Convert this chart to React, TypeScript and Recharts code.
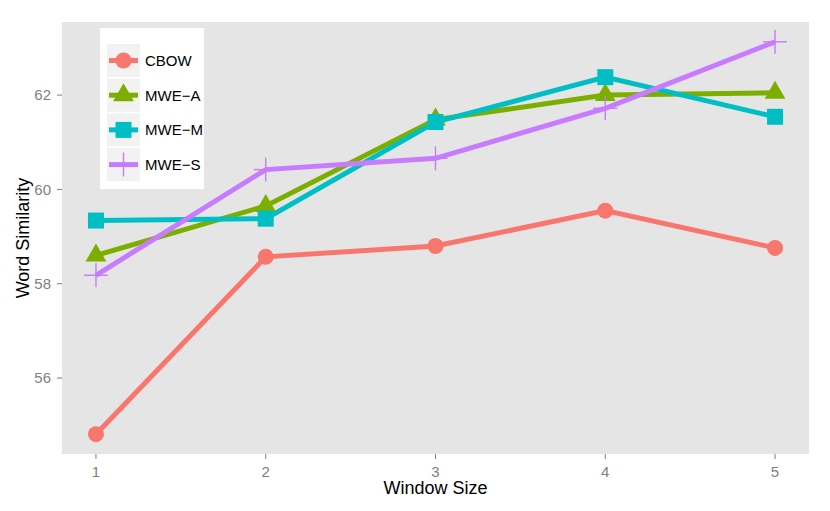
import React from 'react';
import { LineChart, Line, XAxis, YAxis, CartesianGrid } from 'recharts';

const windowSizes = [1, 2, 3, 4, 5];
const cbow = [54.81, 58.57, 58.8, 59.55, 58.76];
const mweA = [58.6, 59.65, 61.48, 62.0, 62.05];
const mweM = [59.34, 59.38, 61.43, 62.38, 61.54];
const mweS = [58.18, 60.42, 60.66, 61.72, 63.13];
const xTicks = [1, 2, 3, 4, 5];
const yTicks = [56, 58, 60, 62];

const font = "'Liberation Sans', Arial, Helvetica, sans-serif";
const grey = '#7F7F7F';

type Shape = 'circle' | 'triangle' | 'square' | 'plus';

const series: { key: string; name: string; color: string; shape: Shape }[] = [
  { key: 'cbow', name: 'CBOW', color: '#F8766D', shape: 'circle' },
  { key: 'mweA', name: 'MWE\u2212A', color: '#7CAE00', shape: 'triangle' },
  { key: 'mweM', name: 'MWE\u2212M', color: '#00BFC4', shape: 'square' },
  { key: 'mweS', name: 'MWE\u2212S', color: '#C77CFF', shape: 'plus' },
];

const data = windowSizes.map((x, i) => ({
  x,
  cbow: cbow[i],
  mweA: mweA[i],
  mweM: mweM[i],
  mweS: mweS[i],
}));

function marker(shape: Shape, color: string, cx: number, cy: number, key?: string | number) {
  if (shape === 'circle') return <circle key={key} cx={cx} cy={cy} r={8} fill={color} />;
  if (shape === 'square')
    return <rect key={key} x={cx - 8} y={cy - 8} width={16} height={16} fill={color} />;
  if (shape === 'triangle')
    return (
      <polygon
        key={key}
        points={`${cx},${cy - 12} ${cx + 10.4},${cy + 6} ${cx - 10.4},${cy + 6}`}
        fill={color}
      />
    );
  return (
    <g key={key} stroke={color} strokeWidth={1.4}>
      <line x1={cx - 12} y1={cy} x2={cx + 12} y2={cy} />
      <line x1={cx} y1={cy - 12} x2={cx} y2={cy + 12} />
    </g>
  );
}

const makeDot = (shape: Shape, color: string) => (props: any) =>
  marker(shape, color, props.cx, props.cy, props.index);

export default function App() {
  return (
    <div style={{ position: 'absolute', left: 0, top: 0, width: 830, height: 511, background: '#fff' }}>
      <LineChart width={830} height={511} data={data} margin={{ top: 22, right: 21, bottom: 0, left: 0 }}>
        <CartesianGrid fill="#E5E5E5" horizontal={false} vertical={false} />
        <XAxis
          type="number"
          dataKey="x"
          domain={[0.8, 5.2]}
          ticks={xTicks}
          allowDataOverflow
          height={57}
          axisLine={false}
          tickSize={5}
          tickMargin={7}
          tickLine={{ stroke: grey }}
          tick={{ fill: grey, fontSize: 15, fontFamily: font }}
        />
        <YAxis
          type="number"
          domain={[54.39, 63.55]}
          ticks={yTicks}
          allowDataOverflow
          width={62}
          axisLine={false}
          tickSize={5}
          tickMargin={6}
          tickLine={{ stroke: grey }}
          tick={{ fill: grey, fontSize: 15, fontFamily: font }}
        />
        {series.map((s) => (
          <Line
            key={`l-${s.key}`}
            type="linear"
            dataKey={s.key}
            stroke={s.color}
            strokeWidth={5}
            dot={false}
            activeDot={false}
            isAnimationActive={false}
          />
        ))}
        {series.map((s) => (
          <Line
            key={`p-${s.key}`}
            type="linear"
            dataKey={s.key}
            stroke="none"
            dot={makeDot(s.shape, s.color)}
            activeDot={false}
            isAnimationActive={false}
          />
        ))}
      </LineChart>
      <svg
        width={830}
        height={511}
        style={{ position: 'absolute', left: 0, top: 0, pointerEvents: 'none' }}
        fontFamily={font}
      >
        <text x={435.5} y={494} textAnchor="middle" fontSize={18} fill="#000">
          Window Size
        </text>
        <text
          x={0}
          y={0}
          transform="translate(29,238) rotate(-90)"
          textAnchor="middle"
          fontSize={18}
          fill="#000"
        >
          Word Similarity
        </text>
        <rect x={100} y={28} width={104} height={161} fill="#fff" />
        {series.map((s, i) => {
          const top = 44 + i * 34.7;
          const cy = top + 16.5;
          return (
            <g key={s.key}>
              <rect x={107} y={top} width={33} height={33} fill="#F2F2F2" />
              <line x1={109} y1={cy} x2={138} y2={cy} stroke={s.color} strokeWidth={5} />
              {marker(s.shape, s.color, 123.5, cy)}
              <text x={145} y={cy} dominantBaseline="central" fontSize={15} fill="#000">
                {s.name}
              </text>
            </g>
          );
        })}
      </svg>
    </div>
  );
}
